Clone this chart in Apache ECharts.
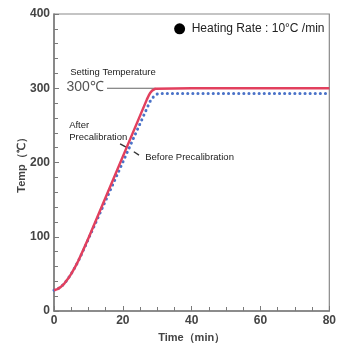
<!DOCTYPE html>
<html>
<head>
<meta charset="utf-8">
<script src="https://cdn.jsdelivr.net/npm/echarts@6/dist/echarts.min.js"></script>
<style>
html,body{margin:0;padding:0;background:#fff;}
#c{width:339px;height:348px;}
</style>
</head>
<body>
<div id="c"></div>
<script>
// Time (min) / temperature (°C)
var afterTime  = [0, 1, 2, 3, 4, 5, 6, 7, 8, 9, 10, 27, 27.5, 28, 28.5, 29, 29.5, 30, 40, 60, 80];
var afterTemp  = [28, 29.5, 32.5, 37, 43, 50, 58, 67, 77, 87.5, 98, 285, 290, 294, 296.8, 298.5, 299.4, 300, 300, 300, 300];
var beforeTime = [0, 1, 2, 3, 4, 5, 6, 7, 8, 9, 10, 27, 28, 29, 29.5, 30, 30.5, 31, 31.5, 40, 60, 80];
var beforeTemp = [28, 29.5, 32.5, 37, 43, 50, 58, 66.5, 76.5, 86.5, 97, 273, 283, 289, 291, 292.2, 292.8, 293, 293, 293, 293, 293];
var xTicks = [0, 20, 40, 60, 80];
var yTicks = [0, 100, 200, 300, 400];

function pairs(a, b) { return a.map(function (v, i) { return [v, b[i]]; }); }

var chart = echarts.init(document.getElementById('c'), null, {renderer: 'canvas'});
var axisGray = '#7a7a7a';
var labelStyle = {color: '#444', fontSize: 12, fontWeight: 'bold', fontFamily: 'Liberation Sans, Arial, sans-serif'};

chart.setOption({
  animation: false,
  backgroundColor: '#fff',
  grid: {left: 54, right: 7, top: 14, bottom: 33, show: true, borderColor: '#8a8a8a', borderWidth: 1.2, backgroundColor: 'transparent'},
  xAxis: {
    type: 'value', min: xTicks[0], max: xTicks[xTicks.length - 1], interval: 20,
    name: 'Time（min）', nameLocation: 'middle', nameGap: 21, nameMoveOverlap: false,
    nameTextStyle: {color: '#444', fontSize: 11, fontWeight: 'bold', fontFamily: 'Liberation Sans, Arial, sans-serif'},
    axisLine: {show: true, lineStyle: {color: axisGray, width: 1.5}},
    axisTick: {show: true, inside: true, length: 5, lineStyle: {color: axisGray}},
    minorTick: {show: true, splitNumber: 4, length: 4, lineStyle: {color: axisGray}},
    axisLabel: Object.assign({margin: 4}, labelStyle),
    splitLine: {show: false}
  },
  yAxis: {
    type: 'value', min: yTicks[0], max: yTicks[yTicks.length - 1], interval: 100,
    name: 'Temp（℃）', nameLocation: 'middle', nameGap: 27, nameRotate: 90, nameMoveOverlap: false,
    nameTextStyle: {color: '#444', fontSize: 11, fontWeight: 'bold', fontFamily: 'Liberation Sans, Arial, sans-serif'},
    axisLine: {show: true, lineStyle: {color: axisGray, width: 1.5}},
    axisTick: {show: true, inside: true, length: 5, lineStyle: {color: axisGray}},
    minorTick: {show: true, splitNumber: 5, length: 4, lineStyle: {color: axisGray}},
    axisLabel: Object.assign({margin: 4}, labelStyle),
    splitLine: {show: false}
  },
  series: [
    {
      type: 'line', name: 'Before Precalibration', data: pairs(beforeTime, beforeTemp),
      showSymbol: false, smooth: false, z: 2,
      lineStyle: {color: '#4a72c8', width: 3, type: [0.1, 5], cap: 'round', join: 'round'}
    },
    {
      type: 'line', name: 'After Precalibration', data: pairs(afterTime, afterTemp),
      showSymbol: false, smooth: false, z: 3,
      lineStyle: {color: '#e2405e', width: 2.5, join: 'round'}
    }
  ]
});

// Annotations placed in data coordinates
function px(x, y) { return chart.convertToPixel({gridIndex: 0}, [x, y]); }
var small = 'Liberation Sans, Arial, sans-serif';
var g = [];
var p;
p = px(36.5, 380);
g.push({type: 'circle', shape: {cx: p[0], cy: p[1], r: 5.5}, style: {fill: '#000'}});
p = px(40, 380);
g.push({type: 'text', x: p[0], y: p[1], style: {text: 'Heating Rate : 10°C /min', fill: '#222', font: '12px ' + small, textVerticalAlign: 'middle'}});
p = px(4.7, 321);
g.push({type: 'text', x: p[0], y: p[1], style: {text: 'Setting Temperature', fill: '#222', font: '9.5px ' + small, textVerticalAlign: 'middle'}});
p = px(3.6, 301);
g.push({type: 'text', x: p[0], y: p[1], style: {text: '300℃', fill: '#555', font: '14px ' + small, textVerticalAlign: 'middle'}});
var a = px(15.4, 300), b = px(29.5, 300);
g.push({type: 'line', shape: {x1: a[0], y1: a[1], x2: b[0], y2: b[1]}, style: {stroke: '#666', lineWidth: 1}});
p = px(4.4, 250);
g.push({type: 'text', x: p[0], y: p[1], style: {text: 'After', fill: '#222', font: '9.5px ' + small, textVerticalAlign: 'middle'}});
p = px(4.4, 234.5);
g.push({type: 'text', x: p[0], y: p[1], style: {text: 'Precalibration', fill: '#222', font: '9.5px ' + small, textVerticalAlign: 'middle'}});
a = px(19.2, 225); b = px(21.1, 220.5);
g.push({type: 'line', shape: {x1: a[0], y1: a[1], x2: b[0], y2: b[1]}, style: {stroke: '#333', lineWidth: 1.4}});
a = px(23.2, 214.5); b = px(24.7, 210);
g.push({type: 'line', shape: {x1: a[0], y1: a[1], x2: b[0], y2: b[1]}, style: {stroke: '#333', lineWidth: 1.4}});
p = px(26.5, 207.5);
g.push({type: 'text', x: p[0], y: p[1], style: {text: 'Before Precalibration', fill: '#222', font: '9.5px ' + small, textVerticalAlign: 'middle'}});
chart.setOption({graphic: g});
</script>
</body>
</html>
